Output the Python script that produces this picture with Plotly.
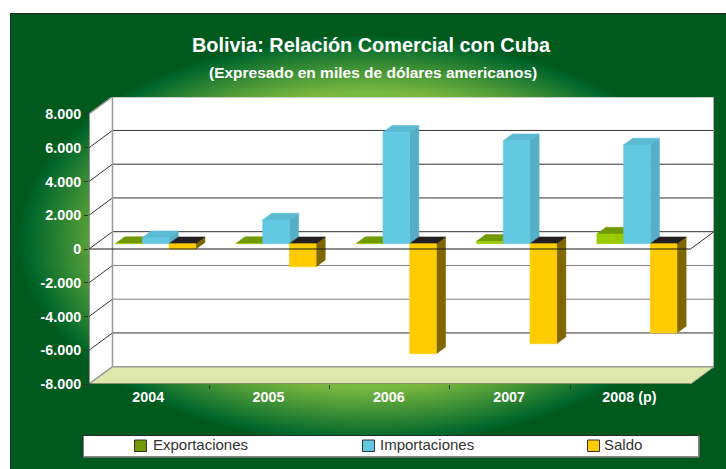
import base64
import plotly.graph_objects as go

# ---- data ----
years = ["2004", "2005", "2006", "2007", "2008 (p)"]
exportaciones = [12, 12, 15, 140, 570]
importaciones = [355, 1400, 6600, 6100, 5850]
saldo = [-330, -1370, -6520, -5930, -5290]
y_ticks = [8000, 6000, 4000, 2000, 0, -2000, -4000, -6000, -8000]
y_labels = ["8.000", "6.000", "4.000", "2.000", "0", "-2.000", "-4.000", "-6.000", "-8.000"]
legend_names = ["Exportaciones", "Importaciones", "Saldo"]
legend_colors = ["#739900", "#63C9E3", "#FFCC00"]

W, H = 726, 469
L, R, T, B = 89, 12, 97, 85
PW, PH = W - L - R, H - T - B
FONT = "Liberation Sans"

# oblique projection for depth (0 = front plane, 1 = back wall), in axis units
DX, DY = 0.1953, 1025
D0, D1 = 0.31, 0.70
N = len(years)


def P(c, v, d):
    return c + d * DX, v + d * DY


def poly(pts):
    xs, ys = [], []
    for p in pts + [pts[0]]:
        x, y = P(*p)
        xs.append(x)
        ys.append(y)
    xs.append(None)
    ys.append(None)
    return xs, ys


def segs(items):
    xs, ys = [], []
    for a, b in items:
        xa, ya = P(*a)
        xb, yb = P(*b)
        xs += [xa, xb, None]
        ys += [ya, yb, None]
    return xs, ys


def fill(pts_list, color, name=None):
    xs, ys = [], []
    for pts in pts_list:
        a, b = poly(pts)
        xs += a
        ys += b
    return go.Scatter(x=xs, y=ys, mode="lines", fill="toself", fillcolor=color, name=name,
                      line=dict(width=0.5, color=color), hoverinfo="skip", showlegend=False)


def line(items, color, width=1):
    xs, ys = segs(items)
    return go.Scatter(x=xs, y=ys, mode="lines", line=dict(color=color, width=width),
                      hoverinfo="skip", showlegend=False)


fig = go.Figure()

# walls and floor
fig.add_trace(fill([[(0, -8000, 0), (0, 8000, 0), (0, 8000, 1), (0, -8000, 1)]], "#ffffff"))
fig.add_trace(fill([[(0, -8000, 1), (0, 8000, 1), (N, 8000, 1), (N, -8000, 1)]], "#ffffff"))
fig.add_trace(fill([[(0, -8000, 0), (N, -8000, 0), (N, -8000, 1), (0, -8000, 1)]], "#DFE8AC"))

dark_grid = [v for v in y_ticks if v not in (8000, -8000, -2000, -4000)]
fig.add_trace(line([((0, v, 1), (N, v, 1)) for v in dark_grid], "#333333"))
fig.add_trace(line([((0, v, 1), (N, v, 1)) for v in (-2000, -4000)], "#808080"))
fig.add_trace(line([((0, v, 0), (0, v, 1)) for v in dark_grid + [-2000, -4000]], "#333333"))
fig.add_trace(line([((0, 8000, 0), (0, 8000, 1)), ((0, 8000, 1), (N, 8000, 1)),
                    ((0, 8000, 1), (0, -8000, 1)), ((N, 8000, 1), (N, -8000, 1)),
                    ((0, -8000, 1), (N, -8000, 1)), ((0, -8000, 0), (0, -8000, 1))],
                   "#999999", 1.5))

# bars
series = [
    (legend_names[0], exportaciones, "#99CC00", "#4D6600", "#739900"),
    (legend_names[1], importaciones, "#63C9E3", "#55AFC6", "#5BBBD3"),
    (legend_names[2], saldo, "#FFCC00", "#806600", "#231F20"),
]
BW = 2 / 9
for s, (name, vals, front, side, top) in enumerate(series):
    tops, sides, fronts = [], [], []
    for c, v in enumerate(vals):
        x0 = c + 1 / 6 - 0.006 + s * BW
        x1 = x0 + BW
        hi, lo = max(v, 0), min(v, 0)
        tops.append([(x0, hi, D0), (x1, hi, D0), (x1, hi, D1), (x0, hi, D1)])
        sides.append([(x1, lo, D0), (x1, hi, D0), (x1, hi, D1), (x1, lo, D1)])
        fronts.append([(x0, lo, D0), (x1, lo, D0), (x1, hi, D0), (x0, hi, D0)])
    fig.add_trace(fill(sides, side))
    fig.add_trace(fill(tops, top))
    fig.add_trace(fill(fronts, front, name))

# front-plane axis lines and the zero line over the bars
fig.add_trace(line([((0, 8000, 0), (0, -8000, 0)), ((0, -8000, 0), (N, -8000, 0))], "#333333"))
fig.add_trace(line([((N, -8000, 0), (N, -8000, 1))], "#999999"))
fig.add_trace(line([((0, 0, 0), (N, 0, 0))], "#1a1a1a"))
fig.add_trace(line([((N, 0, 0), (N, 0, 1))], "#333333"))

FX, FY = 10.5, 13.5  # frame corner in figure pixels
svg = f'''<svg xmlns="http://www.w3.org/2000/svg" width="{W}" height="{H}" viewBox="0 0 {W} {H}">
<defs><radialGradient id="g" gradientUnits="userSpaceOnUse" cx="0" cy="0" r="1"
 gradientTransform="translate(368 240) scale(350 205)">
<stop offset="0" stop-color="#7AB93F"/><stop offset="0.72" stop-color="#7AB93F"/>
<stop offset="0.97" stop-color="#00662B"/><stop offset="1" stop-color="#005A1E"/>
</radialGradient></defs>
<rect width="{W}" height="{H}" fill="#ffffff"/>
<rect x="{FX}" y="{FY}" width="{W + 5}" height="{H + 5}" fill="url(#g)" stroke="#1a2a20" stroke-width="1"/>
</svg>'''
src = "data:image/svg+xml;base64," + base64.b64encode(svg.encode()).decode()


def px(x):  # page pixel -> paper x
    return (x - L) / PW


def py(y):  # page pixel -> paper y
    return 1 - (y - T) / PH


def rect(x0, x1, y0, y1, fillc, linec, width=1):
    return dict(type="rect", xref="paper", yref="paper", layer="above",
                x0=px(x0), x1=px(x1), y0=py(y1), y1=py(y0),
                fillcolor=fillc, line=dict(color=linec, width=width))


def seg(x0, y0, x1, y1, color, width=1.5):
    return dict(type="line", xref="paper", yref="paper", layer="above",
                x0=px(x0), x1=px(x1), y0=py(y0), y1=py(y1), line=dict(color=color, width=width))


shapes = [rect(83, 699, 435.5, 457, "#ffffff", "#2a2a2a", 1.2),
          seg(83, 457, 699, 457, "#808080"), seg(699, 435.5, 699, 457, "#808080")]
annotations = [dict(text="<b>(Expresado en miles de dólares americanos)</b>",
                    xref="paper", yref="paper", x=px(373), y=py(72),
                    xanchor="center", yanchor="middle", showarrow=False,
                    font=dict(family=FONT, size=15.5, color="#ffffff"))]
swatch_x = [134.5, 362.5, 587.5]
label_x = [151, 378, 601.5]
for nm, colr, sx, lx in zip(legend_names, legend_colors, swatch_x, label_x):
    shapes.append(rect(sx, sx + 12, 440, 451.5, colr, "#333333", 1))
    annotations.append(dict(text=nm, xref="paper", yref="paper", x=px(lx), y=py(444.5),
                            xanchor="left", yanchor="middle", showarrow=False,
                            font=dict(family=FONT, size=15, color="#333333")))

fig.update_layout(
    width=W, height=H, autosize=False,
    margin=dict(l=L, r=R, t=T, b=B, autoexpand=False),
    paper_bgcolor="#ffffff", plot_bgcolor="rgba(0,0,0,0)",
    font=dict(family=FONT, color="#ffffff"),
    title=dict(text="<b>Bolivia: Relación Comercial con Cuba</b>",
               font=dict(family=FONT, size=19.9, color="#ffffff"),
               x=px(371), xanchor="center", xref="paper",
               y=1 - 45 / H, yanchor="middle", yref="container"),
    annotations=annotations,
    xaxis=dict(range=[0, PW / 120.3], showgrid=False, zeroline=False, showline=False,
               tickmode="array", tickvals=[c + 0.492 for c in range(N)], ticktext=years,
               ticks="", ticklabelstandoff=3,
               tickfont=dict(family=FONT, size=14.3, color="#ffffff", weight="bold"),
               minor=dict(tickmode="array", tickvals=list(range(N + 1)), ticks="outside",
                          ticklen=4, tickcolor="#333333", tickwidth=1, showgrid=False)),
    yaxis=dict(range=[-8000, 9007], showgrid=False, zeroline=False, showline=False,
               tickmode="array", tickvals=y_ticks, ticktext=y_labels,
               ticks="outside", ticklen=4, tickcolor="#333333", tickwidth=1,
               tickfont=dict(family=FONT, size=14.3, color="#ffffff", weight="bold")),
    images=[dict(source=src, xref="paper", yref="paper", x=px(0), y=py(0),
                 sizex=W / PW, sizey=H / PH, sizing="stretch",
                 xanchor="left", yanchor="top", layer="below")],
    shapes=shapes,
    showlegend=False,
)

fig.write_html("out.html", config=dict(displayModeBar=False),
               post_script="document.documentElement.style.overflow='hidden';"
                           "document.body.style.margin='0';")
